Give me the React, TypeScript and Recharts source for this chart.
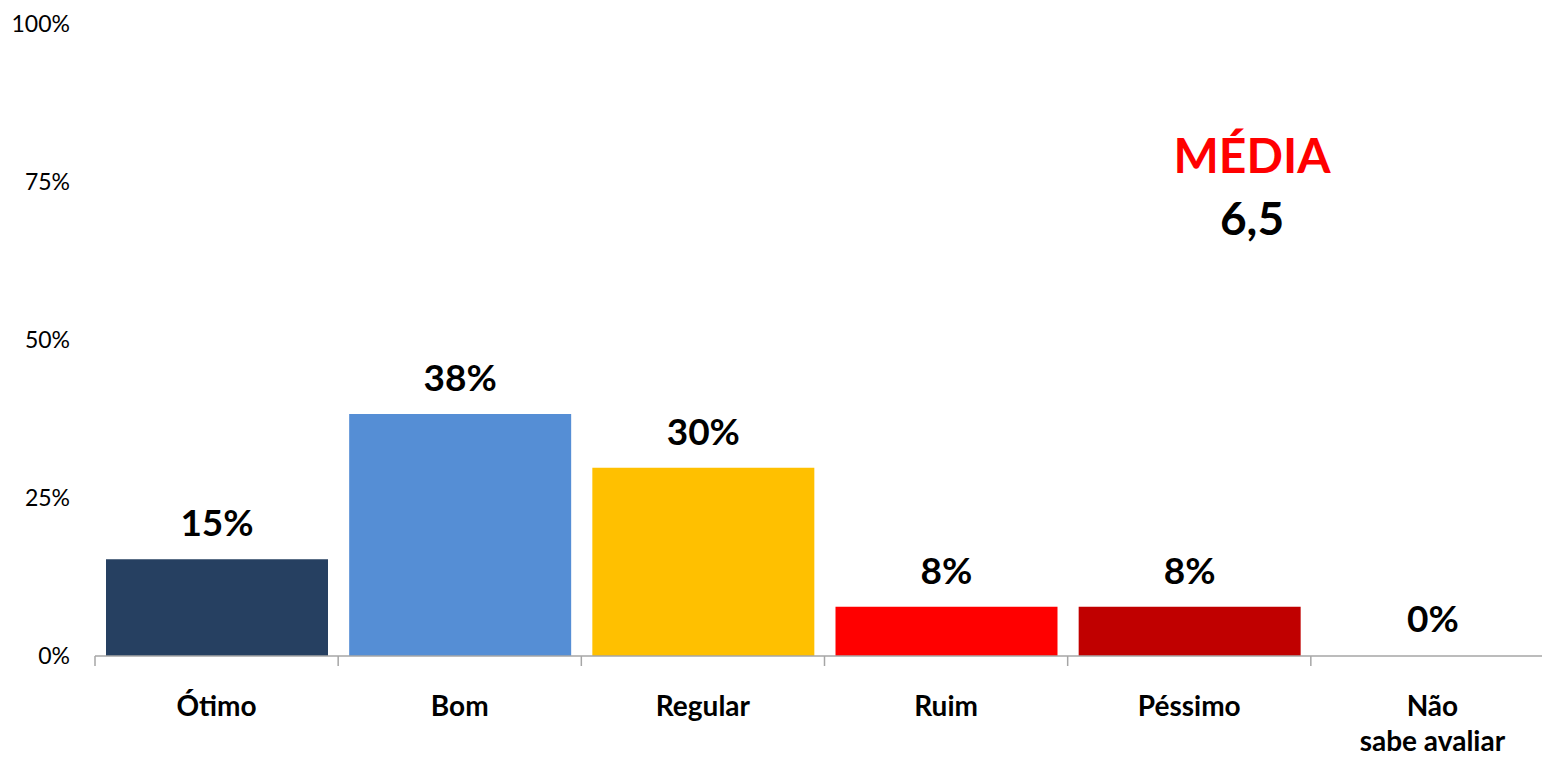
import React from "react";
import { BarChart, Bar, XAxis, YAxis, Cell, LabelList } from "recharts";

// avaliação da gestão - distribuição das respostas
const categories = ["Ótimo", "Bom", "Regular", "Ruim", "Péssimo", "Não\nsabe avaliar"];
const values = [15.3, 38.3, 29.8, 7.8, 7.8, 0];
const barColors = ["#264061", "#558ED5", "#FFC000", "#FF0000", "#C00000", "transparent"];
const yTicks = [0, 25, 50, 75, 100];
const mediaTitle = "MÉDIA";
const mediaValue = "6,5";

const FONT = "Lato, 'Open Sans', sans-serif";

const data = categories.map((name, i) => ({ name, value: values[i] }));

function CategoryTick(props: any) {
  const { x, y, payload, index, visibleTicksCount } = props;
  const half = payload?.offset ?? 121.6;
  const lines = String(payload.value).split("\n");
  const isLast = index === visibleTicksCount - 1;
  return (
    <g>
      <line x1={x - half} x2={x - half} y1={y} y2={y + 10} stroke="#a6a6a6" strokeWidth={1.5} />
      {isLast && (
        <line x1={x + half} x2={x + half} y1={y} y2={y + 10} stroke="#a6a6a6" strokeWidth={1.5} />
      )}
      {lines.map((t, i) => (
        <text
          key={i}
          x={x}
          y={y + 60 + i * 35}
          textAnchor="middle"
          fontFamily={FONT}
          fontWeight={700}
          fontSize={28}
          fill="#000"
        >
          {t}
        </text>
      ))}
    </g>
  );
}

export default function App() {
  return (
    <div
      style={{
        position: "absolute",
        left: 0,
        top: 0,
        width: 1542,
        height: 759,
        overflow: "hidden",
        background: "#fff",
      }}
    >
      <BarChart
        width={1556}
        height={759}
        data={data}
        margin={{ top: 24, right: 2, left: 0, bottom: 0 }}
      >
        <YAxis
          type="number"
          domain={[0, 100]}
          ticks={yTicks}
          width={95}
          axisLine={false}
          tickLine={false}
          tickMargin={19}
          tickFormatter={(v: number) => `${v}%`}
          tick={{ fontFamily: FONT, fontSize: 23, fill: "#000" }}
        />
        <XAxis
          dataKey="name"
          height={103}
          interval={0}
          tickSize={0}
          tickMargin={0}
          tickLine={false}
          axisLine={{ stroke: "#a6a6a6", strokeWidth: 1.5 }}
          tick={<CategoryTick />}
        />
        <Bar dataKey="value" barSize={222} minPointSize={1} isAnimationActive={false}>
          {data.map((d, i) => (
            <Cell key={d.name} fill={barColors[i]} />
          ))}
          <LabelList
            dataKey="value"
            position="top"
            offset={23}
            formatter={(v: any) => `${Math.round(Number(v))}%`}
            style={{ fontFamily: FONT, fontWeight: 700, fontSize: 37, fill: "#000" }}
          />
        </Bar>
      </BarChart>
      <svg
        width={1542}
        height={759}
        style={{ position: "absolute", left: 0, top: 0, pointerEvents: "none" }}
      >
        <text x={1252} y={173} textAnchor="middle" fontFamily={FONT} fontWeight={700} fontSize={48} fill="#FF0000">
          {mediaTitle}
        </text>
        <text x={1252} y={235} textAnchor="middle" fontFamily={FONT} fontWeight={700} fontSize={46} fill="#000">
          {mediaValue}
        </text>
      </svg>
    </div>
  );
}
